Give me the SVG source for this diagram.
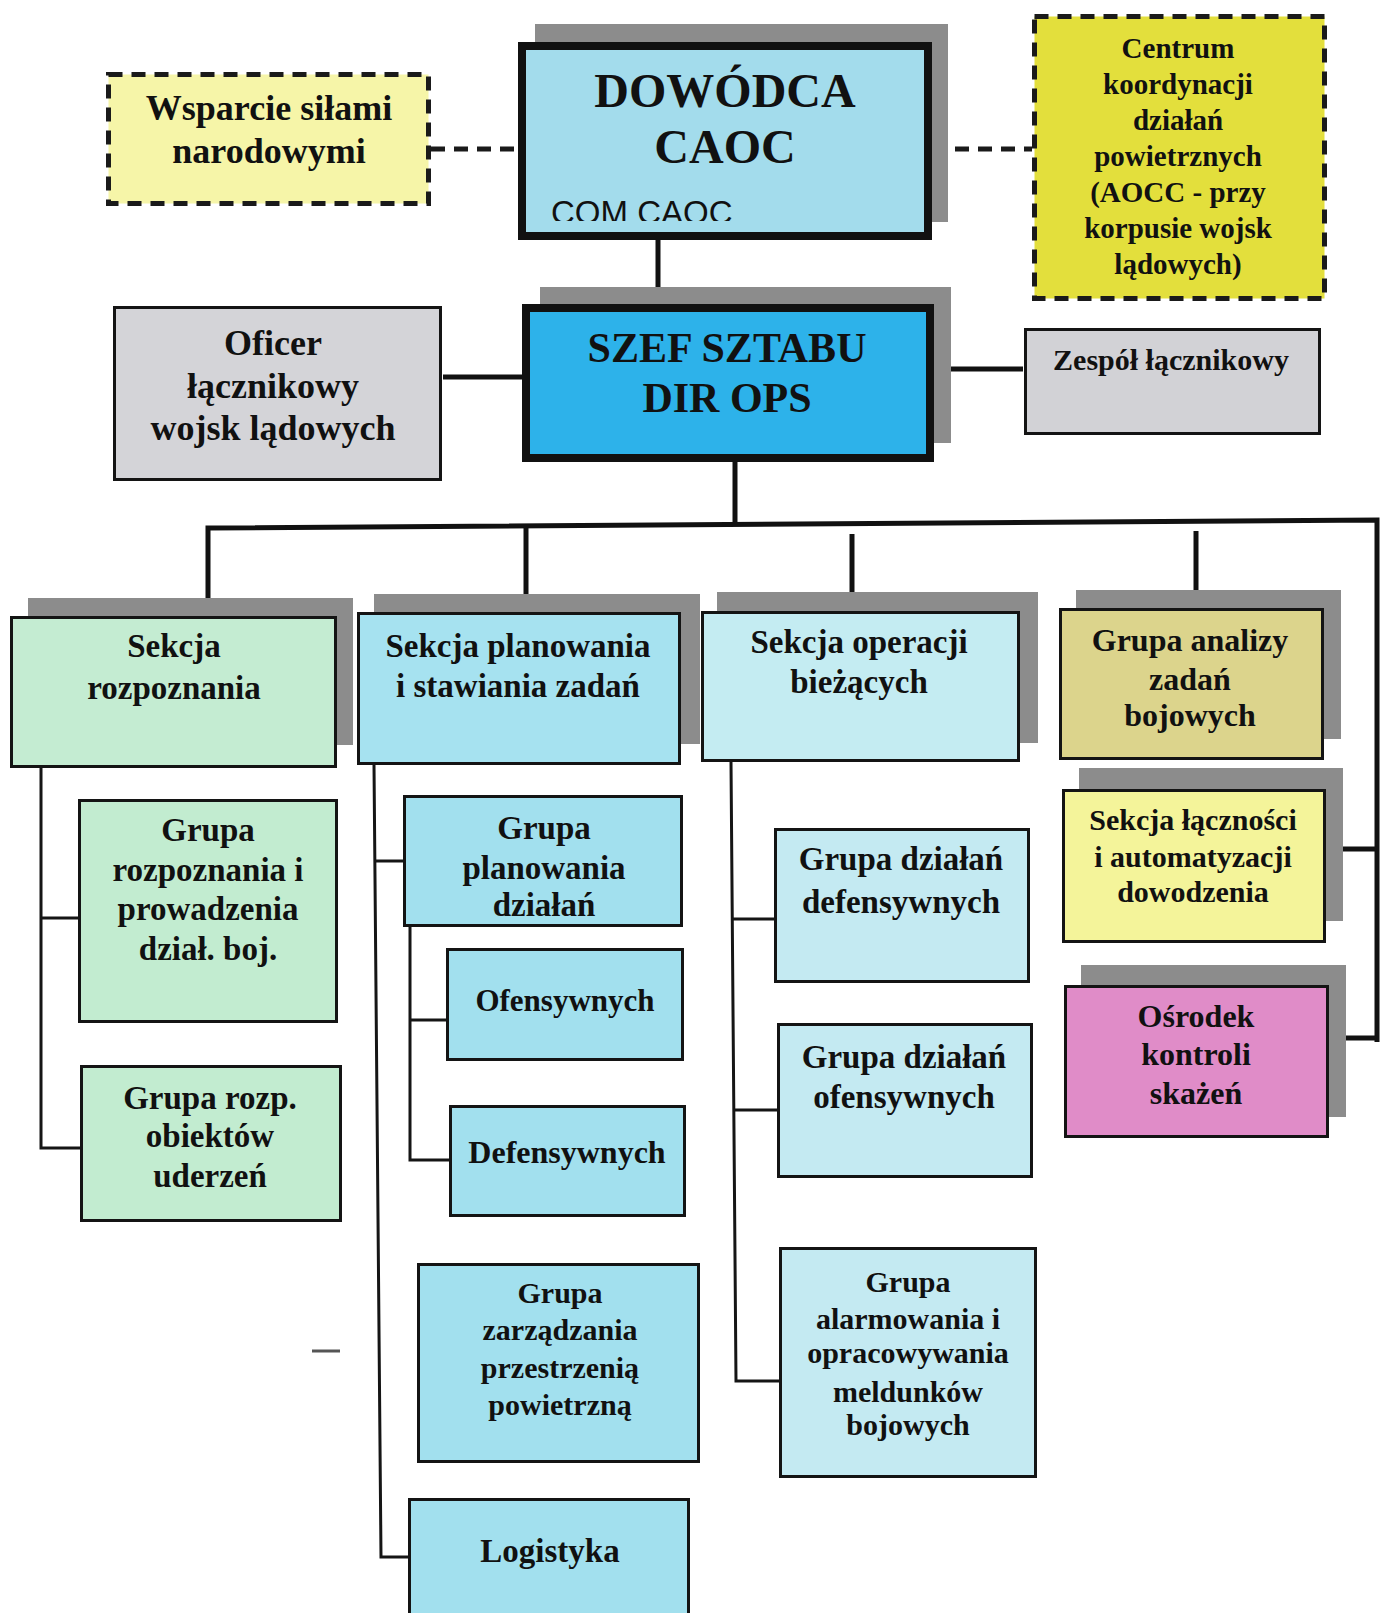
<svg xmlns="http://www.w3.org/2000/svg" width="1381" height="1613" viewBox="0 0 1381 1613">
  <style>
    .t { font-family: "Liberation Serif", "Times New Roman", serif; font-weight: bold; fill: #111; text-anchor: middle; }
    .box { stroke: #141414; stroke-width: 3; }
    .heavy { stroke: #111; stroke-width: 8; }
    .dash { stroke: #1a1a1a; stroke-width: 5; stroke-dasharray: 14 9; fill: none; }
    .shadow { fill: #8c8c8c; }
    .main { stroke: #111; stroke-width: 5; fill: none; }
    .sub { stroke: #151515; stroke-width: 3; fill: none; }
  </style>
  <defs>
    <clipPath id="comClip"><rect x="526" y="50" width="398" height="171"/></clipPath>
  </defs>
  <rect width="1381" height="1613" fill="#ffffff"/>

  <!-- connectors -->
  <g id="connectors">
    <path class="dash" d="M431 149 H518"/>
    <path class="dash" d="M932 149 H1032"/>
    <path class="main" d="M658 240 V304"/>
    <path class="main" stroke-width="4" d="M443 377 H522"/>
    <path class="main" d="M934 369 H1023"/>
    <path class="main" stroke-width="6" d="M735 462 V525"/>
    <path class="main" d="M208 612 V528 L1377 520 V1042"/>
    <path class="main" d="M526 528 V603"/>
    <path class="main" d="M852 534 V611"/>
    <path class="main" d="M1196 531 V607"/>
    <path class="main" d="M1326 849 H1377"/>
    <path class="main" d="M1328 1038 H1377"/>
    <path class="sub" d="M41 768 V1148 H80"/>
    <path class="sub" d="M41 918 H78"/>
    <path class="sub" d="M374 765 L381 1557 H408"/>
    <path class="sub" d="M375 861 H403"/>
    <path class="sub" d="M410 927 V1160 H449"/>
    <path class="sub" d="M410 1020 H446"/>
    <path class="sub" d="M731 762 L736 1381 H779"/>
    <path class="sub" d="M732 919 H774"/>
    <path class="sub" d="M734 1110 H777"/>
    <path d="M312 1351 H340" stroke="#555" stroke-width="3"/>
  </g>

  <g id="wsparcie">
    <rect x="108.5" y="74.5" width="320" height="129" fill="#f6f5a8"/>
    <rect class="dash" x="108.5" y="74.5" width="320" height="129"/>
    <text class="t" font-size="36" x="269" y="120">Wsparcie siłami</text>
    <text class="t" font-size="36" x="269" y="163">narodowymi</text>
  </g>

  <g id="dowodca">
    <rect class="shadow" x="535" y="24" width="413" height="198"/>
    <rect class="heavy" x="522" y="46" width="406" height="190" fill="#a3dcec"/>
    <text class="t" font-size="48" x="725" y="107">DOWÓDCA</text>
    <text class="t" font-size="48" x="725" y="163">CAOC</text>
    <text clip-path="url(#comClip)" font-family="Liberation Sans, Arial, sans-serif" font-size="33" fill="#111" x="551" y="224">COM CAOC</text>
  </g>

  <g id="centrum">
    <rect x="1034.5" y="16.5" width="290" height="282" fill="#e3df3c"/>
    <rect class="dash" x="1034.5" y="16.5" width="290" height="282"/>
    <text class="t" font-size="29" x="1178" y="58">Centrum</text>
    <text class="t" font-size="29" x="1178" y="94">koordynacji</text>
    <text class="t" font-size="29" x="1178" y="130">działań</text>
    <text class="t" font-size="29" x="1178" y="166">powietrznych</text>
    <text class="t" font-size="29" x="1178" y="202">(AOCC -  przy</text>
    <text class="t" font-size="29" x="1178" y="238">korpusie wojsk</text>
    <text class="t" font-size="29" x="1178" y="274">lądowych)</text>
  </g>

  <g id="szef">
    <rect class="shadow" x="540" y="287" width="411" height="156"/>
    <rect class="heavy" x="526" y="308" width="404" height="150" fill="#2db2ea"/>
    <text class="t" font-size="42" x="727" y="362">SZEF SZTABU</text>
    <text class="t" font-size="42" x="727" y="412">DIR OPS</text>
  </g>

  <g id="oficer">
    <rect class="box" stroke-width="5" x="114.5" y="307.5" width="326" height="172" fill="#d4d4d8"/>
    <text class="t" font-size="36" x="273" y="355">Oficer</text>
    <text class="t" font-size="36" x="273" y="398">łącznikowy</text>
    <text class="t" font-size="36" x="273" y="440">wojsk lądowych</text>
  </g>

  <g id="zespol">
    <rect class="box" stroke-width="5" x="1025.5" y="329.5" width="294" height="104" fill="#d2d2d6"/>
    <text class="t" font-size="30" x="1171" y="370">Zespół łącznikowy</text>
  </g>

  <g id="sekcja-rozpoznania">
    <rect class="shadow" x="28" y="598" width="325" height="147"/>
    <rect class="box" x="11.5" y="617.5" width="324" height="149" fill="#c4ecd2"/>
    <text class="t" font-size="33" x="174" y="657">Sekcja</text>
    <text class="t" font-size="33" x="174" y="699">rozpoznania</text>
  </g>

  <g id="sekcja-planowania">
    <rect class="shadow" x="374" y="594" width="326" height="150"/>
    <rect class="box" x="358.5" y="613.5" width="321" height="150" fill="#a6e2f0"/>
    <text class="t" font-size="33" x="518" y="657">Sekcja planowania</text>
    <text class="t" font-size="33" x="518" y="697">i stawiania zadań</text>
  </g>

  <g id="sekcja-operacji">
    <rect class="shadow" x="717" y="592" width="321" height="151"/>
    <rect class="box" x="702.5" y="612.5" width="316" height="148" fill="#c4ecf2"/>
    <text class="t" font-size="33" x="859" y="653">Sekcja operacji</text>
    <text class="t" font-size="33" x="859" y="693">bieżących</text>
  </g>

  <g id="grupa-analizy">
    <rect class="shadow" x="1076" y="590" width="265" height="149"/>
    <rect class="box" x="1060.5" y="609.5" width="262" height="149" fill="#dcd48c"/>
    <text class="t" font-size="32" x="1190" y="651">Grupa analizy</text>
    <text class="t" font-size="32" x="1190" y="690">zadań</text>
    <text class="t" font-size="32" x="1190" y="726">bojowych</text>
  </g>

  <g id="sekcja-lacznosci">
    <rect class="shadow" x="1079" y="768" width="264" height="153"/>
    <rect class="box" x="1063.5" y="790.5" width="261" height="151" fill="#f4f49a"/>
    <text class="t" font-size="30" x="1193" y="830">Sekcja łączności</text>
    <text class="t" font-size="30" x="1193" y="867">i automatyzacji</text>
    <text class="t" font-size="30" x="1193" y="902">dowodzenia</text>
  </g>

  <g id="osrodek">
    <rect class="shadow" x="1081" y="965" width="265" height="152"/>
    <rect class="box" x="1065.5" y="986.5" width="262" height="150" fill="#e08cc8"/>
    <text class="t" font-size="32" x="1196" y="1027">Ośrodek</text>
    <text class="t" font-size="32" x="1196" y="1065">kontroli</text>
    <text class="t" font-size="32" x="1196" y="1104">skażeń</text>
  </g>

  <g id="grupa-rozpoznania">
    <rect class="box" x="79.5" y="800.5" width="257" height="221" fill="#c2ecd0"/>
    <text class="t" font-size="33" x="208" y="841">Grupa</text>
    <text class="t" font-size="33" x="208" y="881">rozpoznania i</text>
    <text class="t" font-size="33" x="208" y="920">prowadzenia</text>
    <text class="t" font-size="33" x="208" y="960">dział. boj.</text>
  </g>

  <g id="grupa-rozp-obiektow">
    <rect class="box" x="81.5" y="1066.5" width="259" height="154" fill="#c2ecd0"/>
    <text class="t" font-size="33" x="210" y="1109">Grupa rozp.</text>
    <text class="t" font-size="33" x="210" y="1147">obiektów</text>
    <text class="t" font-size="33" x="210" y="1187">uderzeń</text>
  </g>

  <g id="grupa-planowania">
    <rect class="box" x="404.5" y="796.5" width="277" height="129" fill="#a2e0ee"/>
    <text class="t" font-size="33" x="544" y="839">Grupa</text>
    <text class="t" font-size="33" x="544" y="879">planowania</text>
    <text class="t" font-size="33" x="544" y="916">działań</text>
  </g>

  <g id="ofensywnych">
    <rect class="box" x="447.5" y="949.5" width="235" height="110" fill="#a2e0ee"/>
    <text class="t" font-size="31" x="565" y="1011">Ofensywnych</text>
  </g>

  <g id="defensywnych">
    <rect class="box" x="450.5" y="1106.5" width="234" height="109" fill="#a2e0ee"/>
    <text class="t" font-size="32" x="567" y="1163">Defensywnych</text>
  </g>

  <g id="grupa-zarzadzania">
    <rect class="box" x="418.5" y="1264.5" width="280" height="197" fill="#a2e0ee"/>
    <text class="t" font-size="30" x="560" y="1303">Grupa</text>
    <text class="t" font-size="30" x="560" y="1340">zarządzania</text>
    <text class="t" font-size="30" x="560" y="1378">przestrzenią</text>
    <text class="t" font-size="30" x="560" y="1415">powietrzną</text>
  </g>

  <g id="logistyka">
    <rect class="box" x="409.5" y="1499.5" width="279" height="130" fill="#a2e0ee"/>
    <text class="t" font-size="33" x="550" y="1562">Logistyka</text>
  </g>

  <g id="grupa-dzialan-defensywnych">
    <rect class="box" x="775.5" y="829.5" width="253" height="152" fill="#c4eaf2"/>
    <text class="t" font-size="33" x="901" y="870">Grupa działań</text>
    <text class="t" font-size="33" x="901" y="913">defensywnych</text>
  </g>

  <g id="grupa-dzialan-ofensywnych">
    <rect class="box" x="778.5" y="1024.5" width="253" height="152" fill="#c4eaf2"/>
    <text class="t" font-size="33" x="904" y="1068">Grupa działań</text>
    <text class="t" font-size="33" x="904" y="1108">ofensywnych</text>
  </g>

  <g id="grupa-alarmowania">
    <rect class="box" x="780.5" y="1248.5" width="255" height="228" fill="#c4eaf2"/>
    <text class="t" font-size="30" x="908" y="1292">Grupa</text>
    <text class="t" font-size="30" x="908" y="1329">alarmowania i</text>
    <text class="t" font-size="30" x="908" y="1363">opracowywania</text>
    <text class="t" font-size="30" x="908" y="1402">meldunków</text>
    <text class="t" font-size="30" x="908" y="1435">bojowych</text>
  </g>
</svg>
